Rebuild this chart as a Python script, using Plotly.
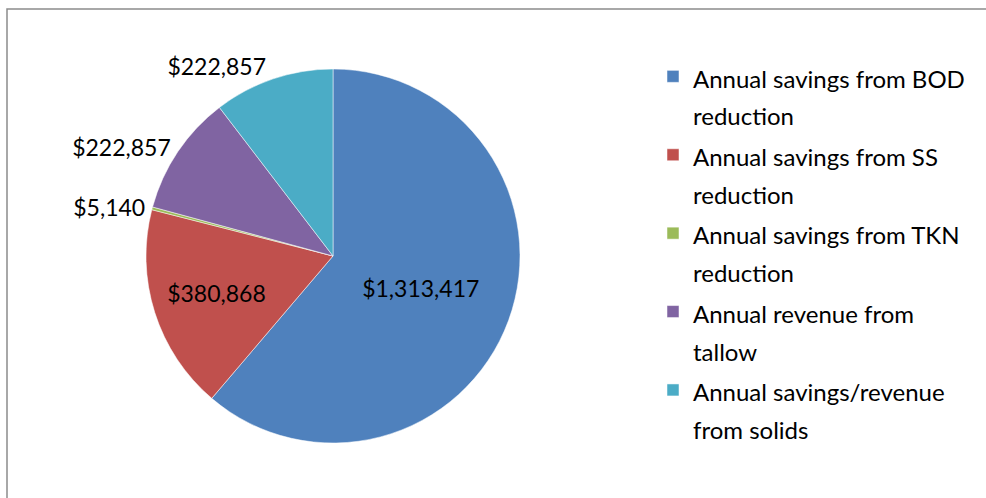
import plotly.graph_objects as go

categories = [
    "Annual savings from BOD<br>reduction",
    "Annual savings from SS<br>reduction",
    "Annual savings from TKN<br>reduction",
    "Annual revenue from<br>tallow",
    "Annual savings/revenue<br>from solids",
]
values = [1313417, 380868, 5140, 222857, 222857]
colors = ["#4F81BD", "#C0504D", "#9BBB59", "#8064A2", "#4BACC6"]
text_positions = ["inside", "inside", "outside", "outside", "outside"]

W, H = 986, 498
FONT = "Lato"
LEGEND_TEXT_SIZE = 24

legend_labels = [
    f'<span style="font-size:{LEGEND_TEXT_SIZE}px">{c}</span>' for c in categories
]

fig = go.Figure(
    go.Pie(
        labels=legend_labels,
        values=values,
        marker=dict(colors=colors, line=dict(color="white", width=0.5)),
        sort=False,
        direction="clockwise",
        rotation=0,
        texttemplate="$%{value:,}",
        textposition=text_positions,
        insidetextorientation="horizontal",
        textfont=dict(family=FONT, size=23, color="black"),
        hoverinfo="value",
        domain=dict(x=[146 / W, 520 / W], y=[1 - 443 / H, 1 - 69 / H]),
    )
)

fig.update_layout(
    width=W,
    height=H,
    margin=dict(l=0, r=0, t=0, b=0),
    paper_bgcolor="white",
    plot_bgcolor="white",
    font=dict(family=FONT, size=23, color="black"),
    showlegend=True,
    legend=dict(
        x=653 / W,
        y=1 - 51 / H,
        xanchor="left",
        yanchor="top",
        font=dict(family=FONT, size=29, color="black"),
        valign="top",
        bgcolor="rgba(0,0,0,0)",
    ),
    shapes=[
        dict(
            type="rect",
            xref="paper",
            yref="paper",
            x0=7 / W,
            x1=1.05,
            y0=-0.05,
            y1=1 - 9 / H,
            line=dict(color="#8c8c8c", width=1.5),
            fillcolor="rgba(0,0,0,0)",
        )
    ],
)

fig.write_html("out.html")
